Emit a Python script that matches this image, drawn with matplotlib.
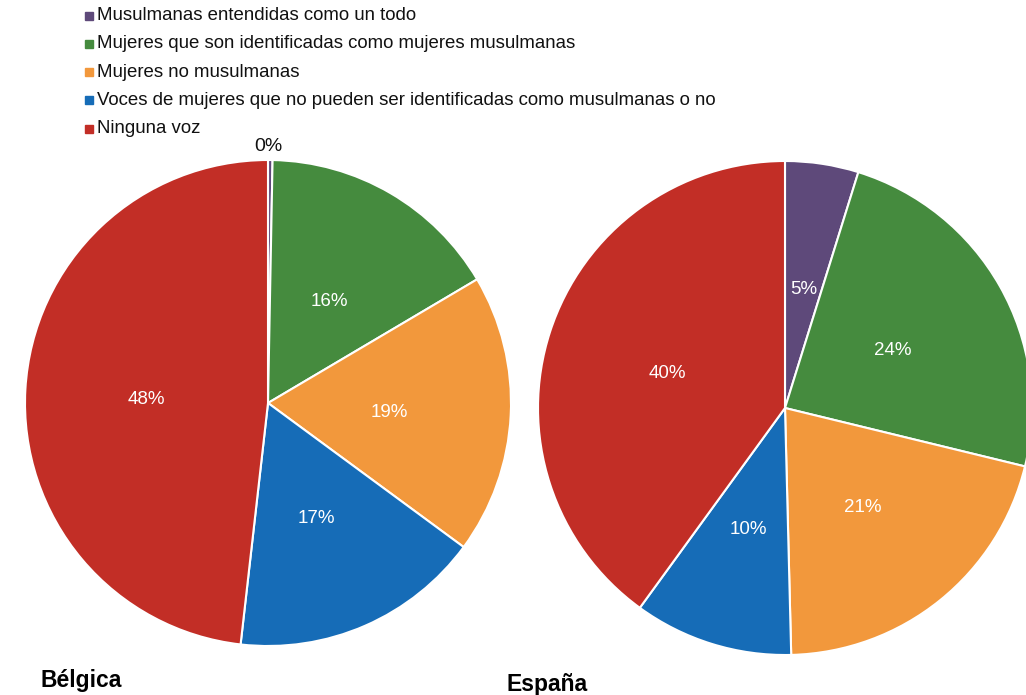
import matplotlib.pyplot as plt
from matplotlib.patches import Rectangle

plt.rcParams['font.family'] = ['Liberation Sans', 'DejaVu Sans']

categories = [
    "Musulmanas entendidas como un todo",
    "Mujeres que son identificadas como mujeres musulmanas",
    "Mujeres no musulmanas",
    "Voces de mujeres que no pueden ser identificadas como musulmanas o no",
    "Ninguna voz",
]
colors = ['#5e497a', '#458b3e', '#f2983c', '#166cb7', '#c22e26']

belgica = [0.3, 16.2, 18.6, 16.7, 48.2]
espana = [4.8, 24.0, 20.8, 10.4, 40.0]

W, H = 1026, 695
fig = plt.figure(figsize=(W / 100, H / 100), dpi=100)


def pie_axes(cx, cy, r):
    return fig.add_axes([(cx - r) / W, (H - cy - r) / H, 2 * r / W, 2 * r / H])


def draw_pie(ax, values):
    wedges, texts, autotexts = ax.pie(
        values, colors=colors, startangle=90, counterclock=False,
        autopct=lambda p: f"{p:.0f}%", pctdistance=0.5,
        wedgeprops=dict(edgecolor='white', linewidth=1.5),
        textprops=dict(color='white', fontsize=13.5))
    ax.set_xlim(-1, 1)
    ax.set_ylim(-1, 1)
    ax.set_aspect('auto')
    for w in wedges:
        w.set_clip_on(False)
    # labels sit a little lower in the original
    for t in autotexts:
        x, y = t.get_position()
        t.set_position((x, y - 0.015))
    return autotexts


ax1 = pie_axes(268, 403, 243)
at1 = draw_pie(ax1, belgica)
# tiny slice: label outside the pie
at1[0].set_position((0, 1.055))
at1[0].set_color('#111111')
at1[0].set_fontsize(14)

ax2 = pie_axes(785, 408, 247)
draw_pie(ax2, espana)

# legend
for i, (lab, c) in enumerate(zip(categories, colors)):
    y = 15.5 + 28.3 * i
    fig.add_artist(Rectangle((85 / W, (H - y - 4) / H), 8 / W, 8 / H,
                             transform=fig.transFigure, color=c))
    fig.text(97 / W, (H - y) / H, lab, fontsize=13.4, va='center', ha='left',
             color='#111111')

fig.text(40 / W, (H - 680) / H, "Bélgica", fontsize=16.5, fontweight='bold',
         va='center', ha='left')
fig.text(507 / W, (H - 684) / H, "España", fontsize=16.5, fontweight='bold',
         va='center', ha='left')

fig.savefig('out.png', dpi=100, facecolor='white')
